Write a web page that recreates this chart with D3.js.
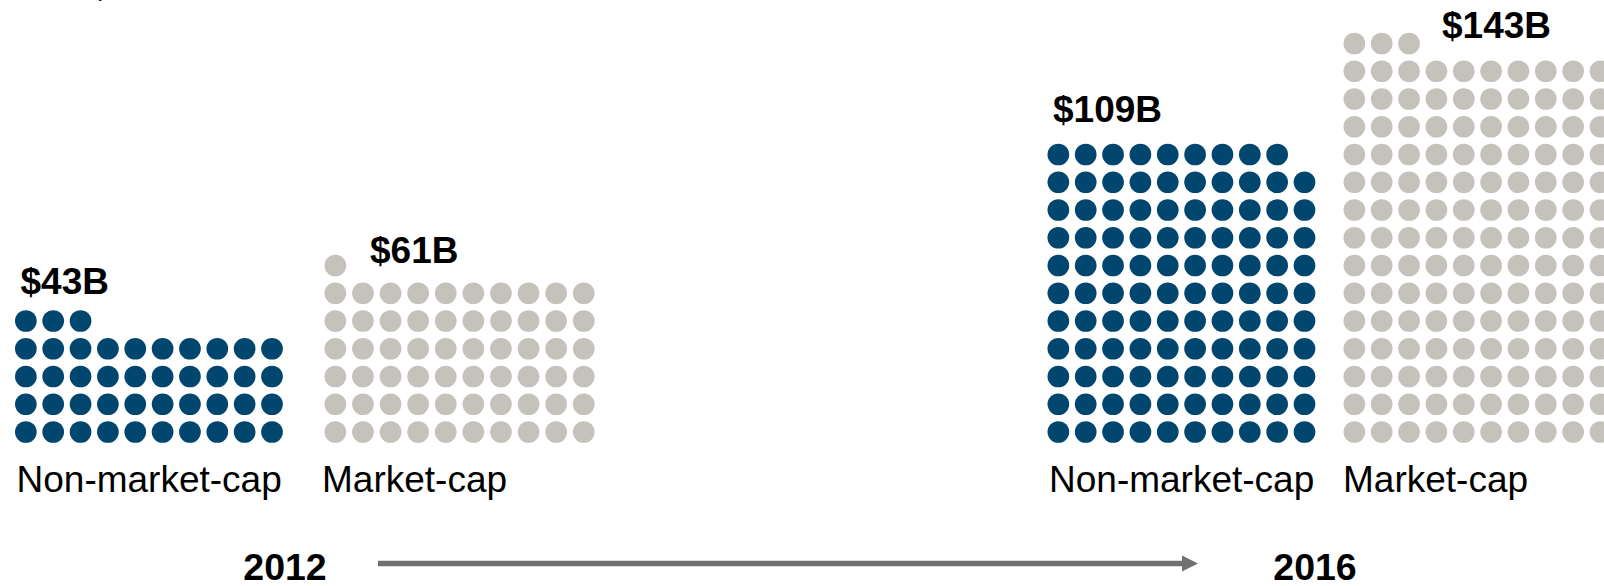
<!DOCTYPE html>
<html>
<head>
<meta charset="utf-8">
<script src="https://cdn.jsdelivr.net/npm/d3@7"></script>
<style>
  html, body { margin: 0; padding: 0; background: #fff; overflow: hidden; }
  svg { display: block; font-family: "Liberation Sans", Arial, sans-serif; }
</style>
</head>
<body>
<svg id="chart" width="1604" height="586"></svg>
<script>
// Index assets in $ billions, one dot per $1B
const years = ["2012", "2016"];
const segments = ["Non-market-cap", "Market-cap"];
const values2012 = [43, 61];
const values2016 = [109, 143];
const subtitle = "$ in billions";

const segmentColors = { "Non-market-cap": "#01466f", "Market-cap": "#c4c2bb" };

// one block per year/segment pair
const blocks = [];
years.forEach((yr, yi) => {
  const vals = yi === 0 ? values2012 : values2016;
  segments.forEach((seg, si) => blocks.push({ year: yr, segment: seg, value: vals[si] }));
});

// layout: left edge of each dot block, column spacing and label offsets
const blockLeft = [15, 324.5, 1047.5, 1343.5];
const blockPitch = [27.35, 27.6, 27.35, 27.35];
const labelOffset = [
  { dx: 5.5, dy: -27.5 },
  { dx: 45.5, dy: -3 },
  { dx: 5.5, dy: -33 },
  { dx: 98.5, dy: -6 }
];
const captionDx = [1.5, -2.5, 1.5, -0.5];

const perRow = 10;
const rowPitch = 27.75, r = 10.85;
const bottomRowY = 432;

const svg = d3.select("#chart");

// row index (from bottom) -> y
const yRow = d3.scaleLinear().domain([0, 1]).range([bottomRowY, bottomRowY - rowPitch]);

// heading cropped along the top edge
svg.append("text")
  .attr("x", 90).attr("y", -1.5)
  .attr("font-size", 36).attr("fill", "#000")
  .text(subtitle);

blocks.forEach((b, i) => {
  // column index -> x offset within this block
  const xCol = d3.scaleLinear().domain([0, perRow - 1])
    .range([r, r + (perRow - 1) * blockPitch[i]]);
  const g = svg.append("g").attr("transform", `translate(${blockLeft[i]},0)`);
  const dots = d3.range(b.value).map(k => ({ col: k % perRow, row: Math.floor(k / perRow) }));
  g.selectAll("circle").data(dots).join("circle")
    .attr("cx", d => xCol(d.col))
    .attr("cy", d => yRow(d.row))
    .attr("r", r)
    .attr("fill", segmentColors[b.segment]);

  const topRow = Math.ceil(b.value / perRow) - 1;
  g.append("text")
    .attr("x", labelOffset[i].dx)
    .attr("y", yRow(topRow) + labelOffset[i].dy)
    .attr("font-size", 37).attr("font-weight", "bold").attr("fill", "#000")
    .text(`$${b.value}B`);

  g.append("text")
    .attr("x", captionDx[i]).attr("y", 492)
    .attr("font-size", 37).attr("fill", "#000")
    .text(b.segment);
});

// year captions joined by an arrow
const yearX = d3.scalePoint().domain(years).range([285, 1315]);
svg.selectAll("text.year").data(years).join("text")
  .attr("class", "year")
  .attr("x", d => yearX(d)).attr("y", 580)
  .attr("text-anchor", "middle")
  .attr("font-size", 37.5).attr("font-weight", "bold").attr("fill", "#000")
  .text(d => d);

const arrowY = 563.5;
svg.append("line")
  .attr("x1", 378).attr("x2", 1184)
  .attr("y1", arrowY).attr("y2", arrowY)
  .attr("stroke", "#6f7071").attr("stroke-width", 5.5);
svg.append("path")
  .attr("d", `M1182,${arrowY - 8} L1198,${arrowY} L1182,${arrowY + 8} Z`)
  .attr("fill", "#6f7071");
</script>
</body>
</html>
